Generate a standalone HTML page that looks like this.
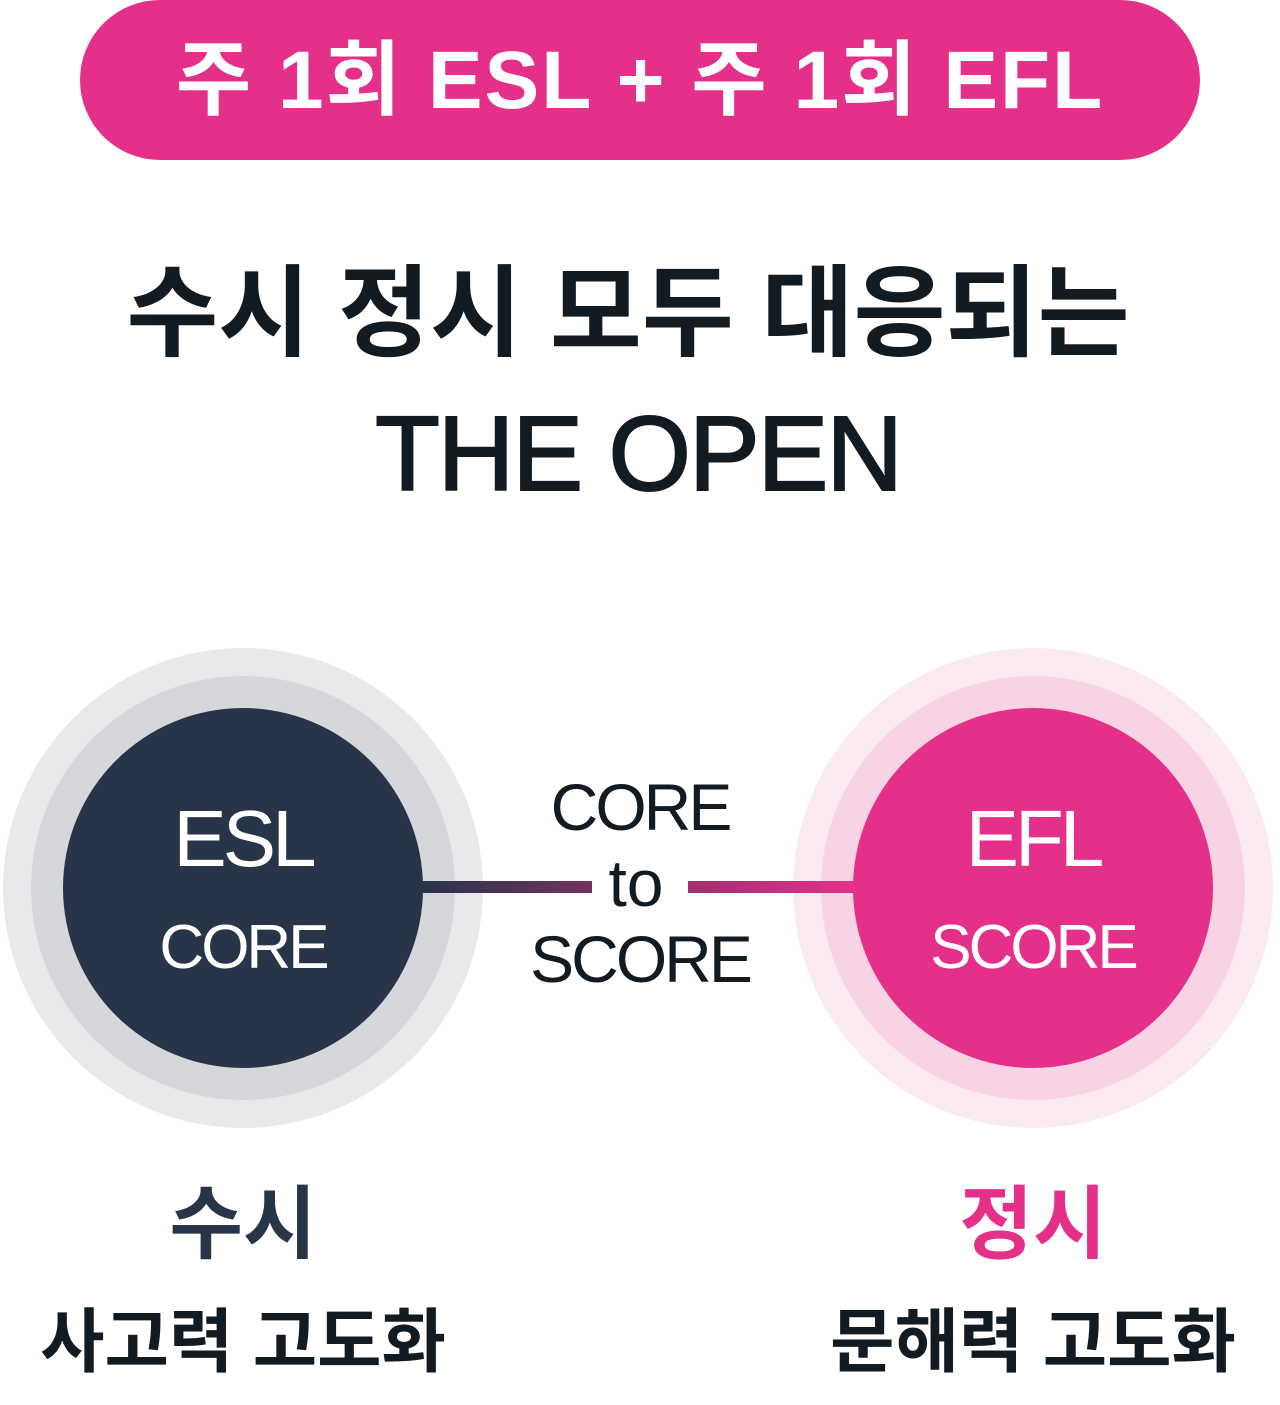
<!DOCTYPE html>
<html><head><meta charset="utf-8"><style>
html,body{margin:0;padding:0;background:#fff;}
svg text{font-family:"Liberation Sans","Noto Sans CJK KR",sans-serif;}
</style></head><body>
<svg width="1280" height="1400" viewBox="0 0 1280 1400" xmlns="http://www.w3.org/2000/svg">
<defs>
<linearGradient id="g" x1="422" y1="0" x2="853" y2="0" gradientUnits="userSpaceOnUse">
<stop offset="0" stop-color="#283447"/><stop offset="1" stop-color="#e5308a"/>
</linearGradient>
</defs>
<rect x="80" y="0" width="1120" height="160" rx="80" fill="#e5308a"/>
<text x="640" y="108" font-size="82" font-weight="bold" fill="#fff" text-anchor="middle" letter-spacing="2">주 1회 ESL + 주 1회 EFL</text>
<text x="628" y="348" font-size="100" font-weight="bold" fill="#121a22" text-anchor="middle">수시 정시 모두 대응되는</text>
<text x="638" y="490" font-size="106" fill="#121a22" text-anchor="middle" letter-spacing="-2" stroke="#121a22" stroke-width="2">THE OPEN</text>

<circle cx="243" cy="888" r="240" fill="#e8e9eb"/>
<circle cx="243" cy="888" r="212" fill="#d5d7db"/>
<circle cx="243" cy="888" r="180" fill="#283447"/>
<circle cx="1033" cy="888" r="240" fill="#fbe9f1"/>
<circle cx="1033" cy="888" r="212" fill="#f8d3e4"/>
<circle cx="1033" cy="888" r="180" fill="#e5308a"/>

<rect x="422" y="881" width="170" height="12" fill="url(#g)"/>
<rect x="688" y="881" width="166" height="12" fill="url(#g)"/>

<text x="640" y="830" font-size="66" fill="#121a22" text-anchor="middle" letter-spacing="-3">CORE</text>
<text x="636" y="906" font-size="66" fill="#121a22" text-anchor="middle">to</text>
<text x="640" y="982" font-size="66" fill="#121a22" text-anchor="middle" letter-spacing="-3">SCORE</text>

<text x="243" y="866" font-size="80" fill="#fff" text-anchor="middle" letter-spacing="-4">ESL</text>
<text x="243" y="968" font-size="62" fill="#fff" text-anchor="middle" letter-spacing="-3">CORE</text>
<text x="1033" y="866" font-size="80" fill="#fff" text-anchor="middle" letter-spacing="-4">EFL</text>
<text x="1033" y="968" font-size="62" fill="#fff" text-anchor="middle" letter-spacing="-3">SCORE</text>

<text x="243" y="1252" font-size="80" font-weight="bold" fill="#283447" text-anchor="middle">수시</text>
<text x="1033" y="1252" font-size="80" font-weight="bold" fill="#e5308a" text-anchor="middle">정시</text>
<text x="243" y="1366" font-size="70" font-weight="bold" fill="#121a22" text-anchor="middle">사고력 고도화</text>
<text x="1033" y="1366" font-size="70" font-weight="bold" fill="#121a22" text-anchor="middle">문해력 고도화</text>
</svg>
</body></html>
